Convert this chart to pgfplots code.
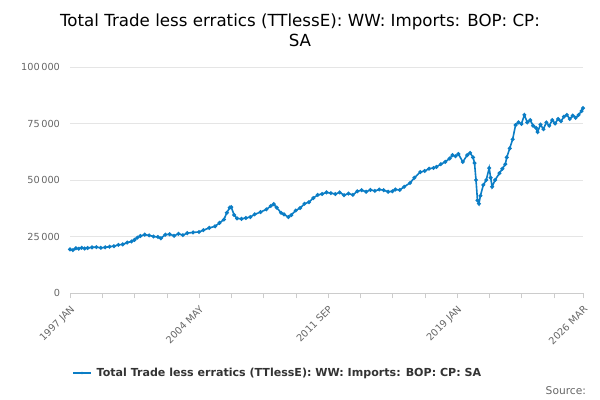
\documentclass[border=0pt]{standalone}
\usepackage{pgfplots}
\pgfplotsset{compat=1.18}
\usepackage{fontspec}
\setmainfont{DejaVu Sans}
\definecolor{ln}{HTML}{0B7DC5}
\begin{document}
\begin{tikzpicture}[x=1pt,y=1pt]
\useasboundingbox (0,0) rectangle (450,300);
\node[align=center,font=\fontsize{12.5}{15}\selectfont] at (225,277) {Total Trade less erratics (TTlessE): WW: Imports: BOP: CP:\\SA};
\begin{axis}[at={(52.5pt,80.25pt)},anchor=origin,scale only axis,width=384.75pt,height=169.5pt,
 xmin=0,xmax=350,ymin=0,ymax=100000,
 axis y line*=left, axis x line*=bottom,
 y axis line style={draw=none},
 x axis line style={draw=gray!40},
 ytick={0,25000,50000,75000,100000},
 yticklabels={0,25\,000,50\,000,75\,000,100\,000},
 ymajorgrids, grid style={gray!20},
 major y tick style={draw=none},
 xtick={0,88,176,264,350}, xticklabels={1997 JAN,2004 MAY,2011 SEP,2019 JAN,2026 MAR},
 minor xtick={22,44,66,110,132,154,198,220,242,286,308,330},
 x tick style={draw=gray!40}, tick align=outside, major tick length=4pt, minor tick length=4pt,
 xticklabel style={rotate=45,anchor=north east,font=\fontsize{7.3}{8}\selectfont,text=gray!80!black},
 yticklabel style={font=\fontsize{7.3}{8}\selectfont,text=gray!80!black},
 scaled y ticks=false,clip=false]
\addplot[ln,line width=1.2pt,mark=*,mark size=0.8pt] coordinates {
(0,19300)(2,19000)(4,19800)(6,19600)(8,20000)(10,19700)(12,19900)(15,20200)(18,20300)(21,20000)(24,20200)(27,20500)(30,20700)(33,21300)(36,21500)(39,22300)(42,22800)(44,23500)(46,24500)(48,25200)(51,25800)(54,25500)(57,25000)(60,24800)(62,24200)(65,25800)(68,26000)(71,25300)(74,26200)(77,25600)(80,26500)(84,26800)(88,27000)(91,27800)(95,28800)(99,29500)(102,31000)(105,32500)(107,35500)(109,37800)(110,38000)(112,34500)(114,33000)(117,32800)(120,33200)(123,33600)(126,34800)(130,35800)(134,37000)(137,38500)(139,39300)(141,37800)(144,35500)(146,34800)(149,33600)(151,34500)(154,36500)(157,37600)(160,39500)(163,40200)(166,42000)(169,43400)(172,43800)(175,44500)(178,44200)(181,43800)(184,44500)(187,43300)(190,44000)(193,43400)(196,45000)(199,45500)(202,44800)(205,45600)(208,45200)(211,45800)(214,45500)(217,44800)(220,45000)(222,45800)(225,45600)(228,47000)(232,48700)(235,51000)(239,53500)(242,54000)(245,55000)(248,55300)(250,55800)(253,57000)(256,58000)(259,59500)(261,61000)(263,60500)(265,61500)(268,58000)(271,61000)(273,62000)(275,60000)(276,57500)(277,50000)(278,41000)(279,39500)(280,43000)(282,47800)(284,50000)(286,55300)(287,51000)(288,47000)(290,50000)(293,53000)(295,55000)(297,57000)(298,60000)(300,64000)(302,68000)(304,74300)(306,75500)(308,74800)(310,78800)(312,75500)(314,76500)(316,74000)(318,73000)(319,71200)(321,74500)(323,72500)(325,75500)(327,74000)(329,76500)(331,75000)(333,77000)(335,76000)(337,78000)(339,78800)(341,77000)(343,78500)(345,77500)(347,78800)(349,80500)(350,81800)};
\end{axis}
\draw[ln,line width=1.2pt] (55,20.25)--(68,20.25); \fill[ln] (61.5,20.25) circle (1pt);
\node[anchor=west,font=\fontsize{8.3}{10}\selectfont\bfseries,text=black!80] at (69,20.25) {Total Trade less erratics (TTlessE): WW: Imports: BOP: CP: SA};
\node[anchor=east,font=\fontsize{8}{10}\selectfont,text=gray!80!black] at (443,7) {Source:};
\end{tikzpicture}
\end{document}
